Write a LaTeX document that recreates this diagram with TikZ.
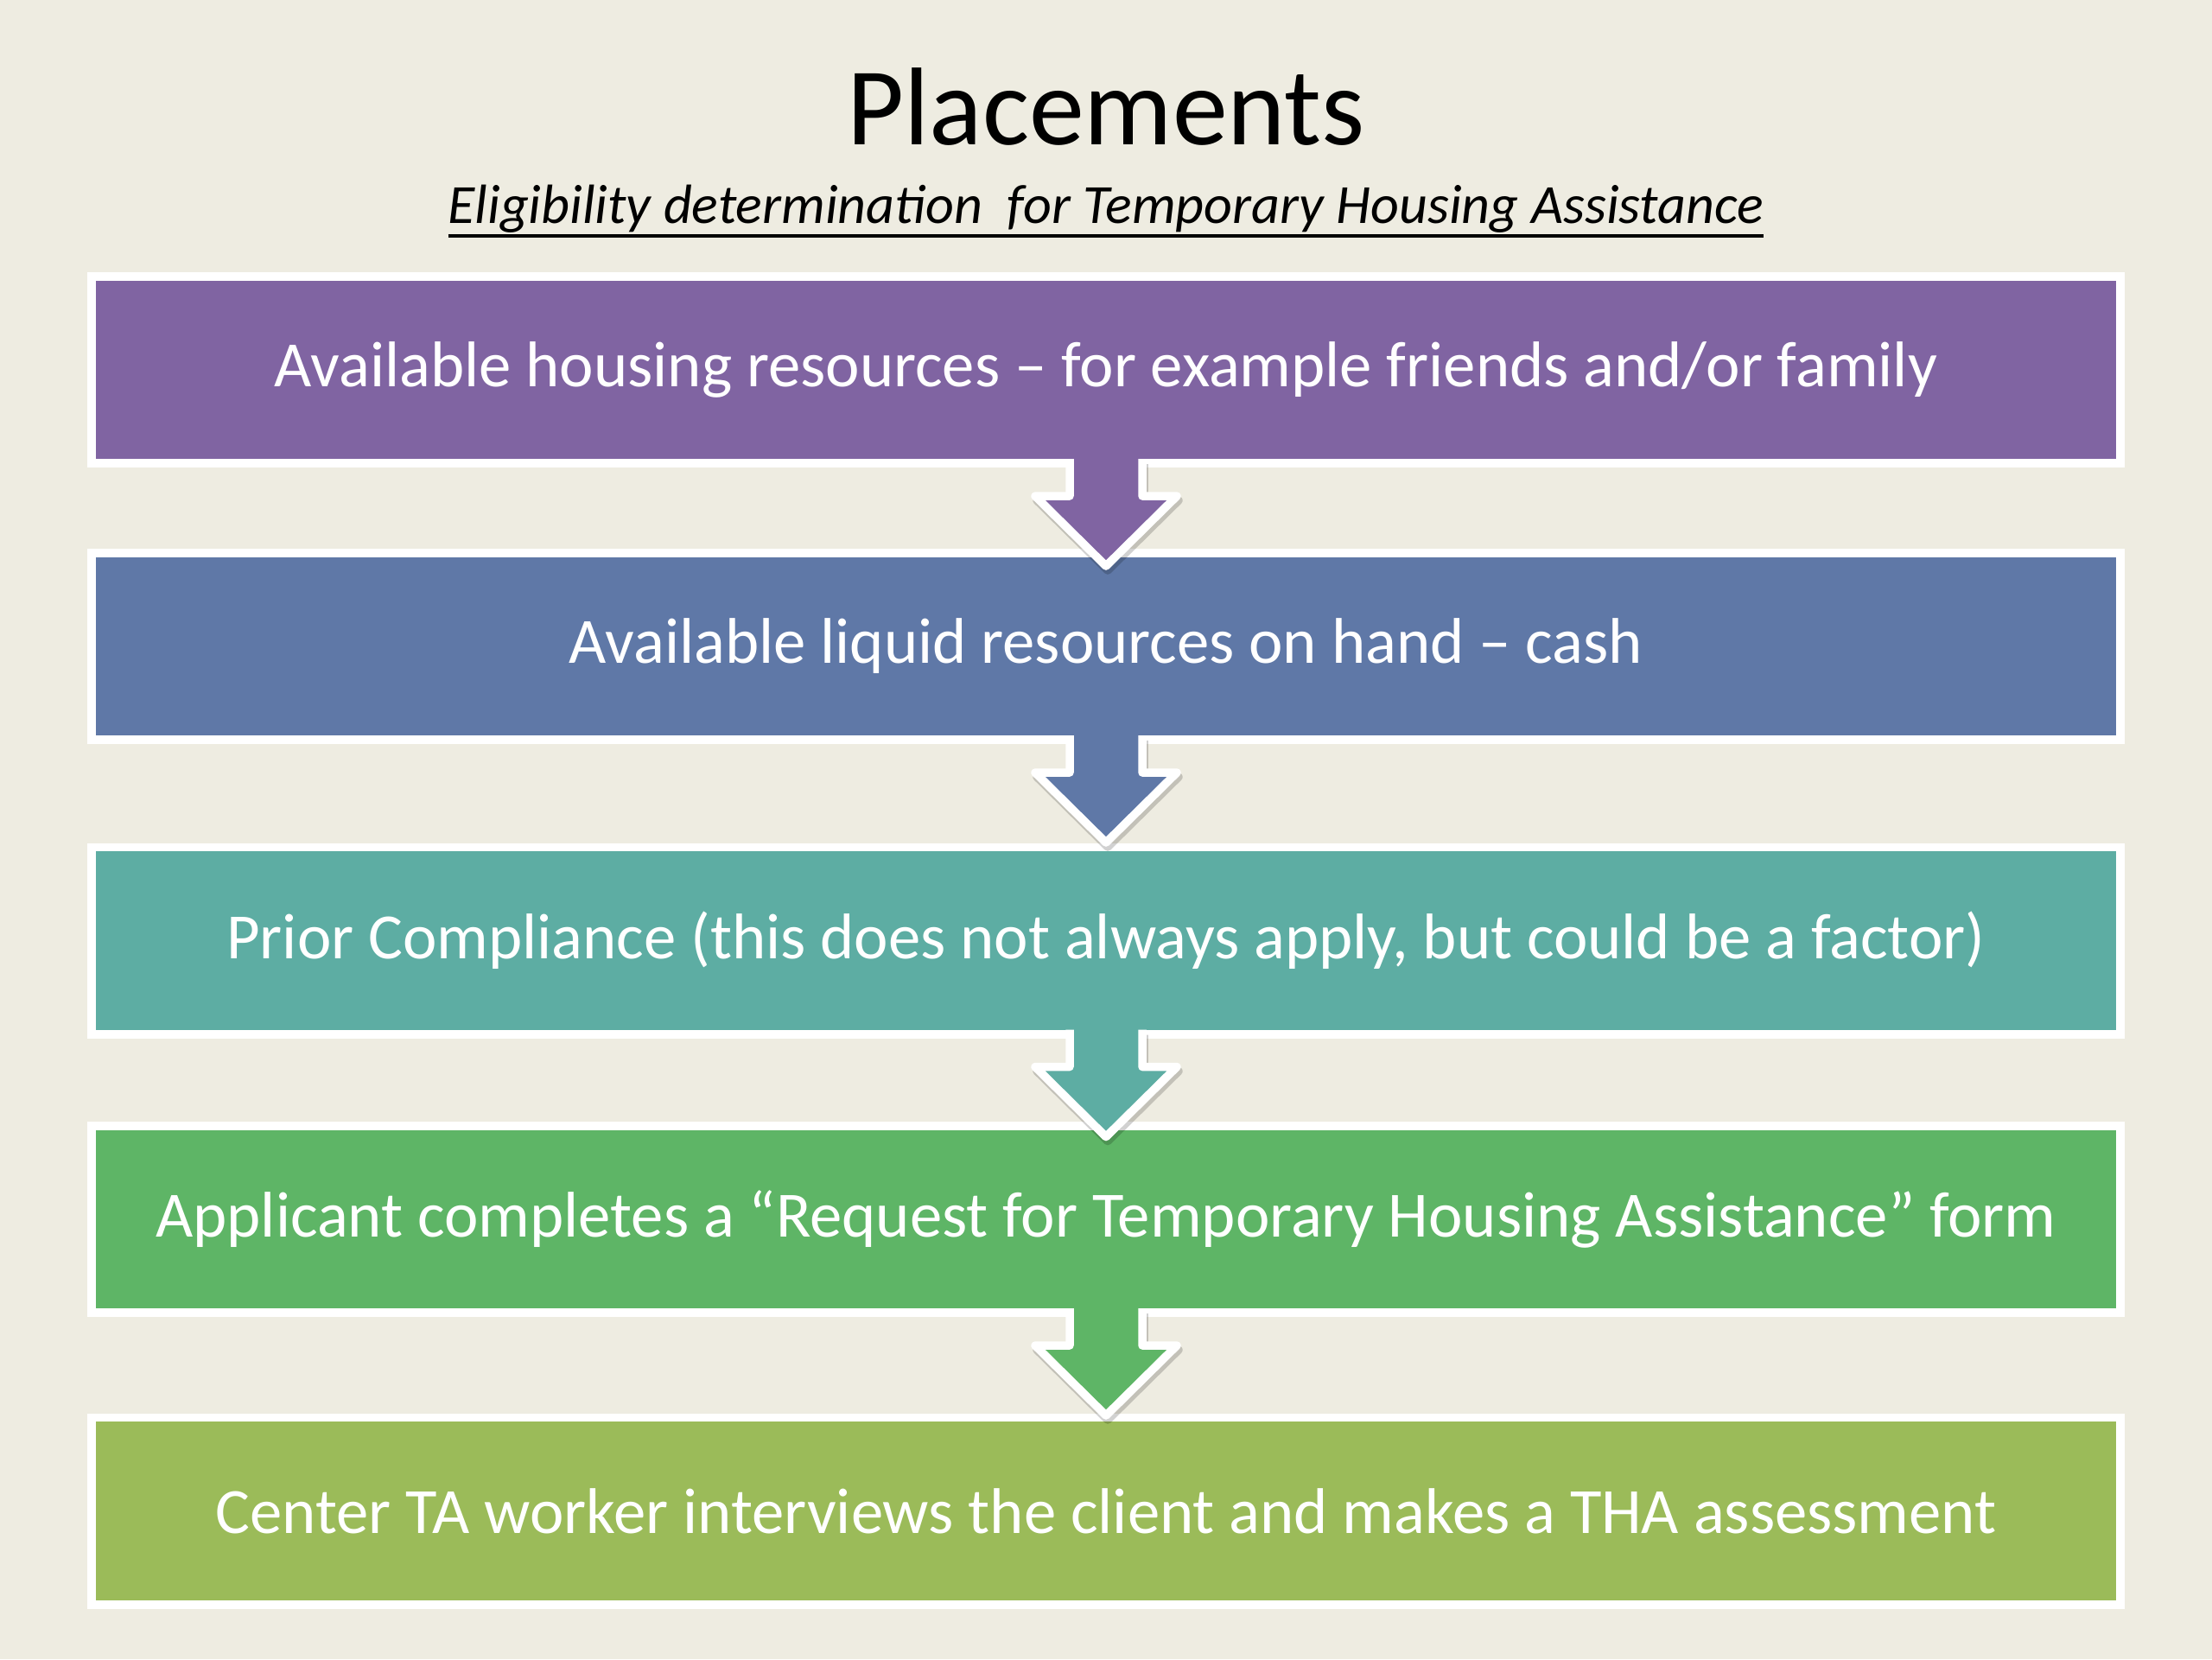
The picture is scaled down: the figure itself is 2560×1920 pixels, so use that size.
\documentclass[tikz,border=0pt]{standalone}
\usepackage{fontspec}
\setmainfont{Carlito}
\usetikzlibrary{calc,shadows}
\definecolor{bgc}{HTML}{EEECE1}
\definecolor{cA}{HTML}{8064A2}
\definecolor{cB}{HTML}{5F78A7}
\definecolor{cC}{HTML}{5DADA3}
\definecolor{cD}{HTML}{5EB566}
\definecolor{cE}{HTML}{9BBB59}
\newcommand\myul[1]{\setbox0\hbox{#1}\rlap{\rule[-0.26em]{\wd0}{1.1pt}}\box0}
\tikzset{
  stepbox/.style={draw=white, line width=2.8pt, minimum width=23.46cm, minimum height=2.16cm,
    inner sep=0pt, outer sep=0pt, text=white, font=\fontsize{21.25}{26}\selectfont,
    drop shadow={shadow xshift=0.7pt, shadow yshift=-1.3pt, opacity=0.22, fill=black}},
  arrline/.style={draw=white, line width=2.7pt, line join=round},
  arrshadow/.style={draw=black, opacity=0.18, line width=2.7pt, line join=round}
}
\newcommand\flowarrow[3]{%
  \coordinate (s#1) at ([shift={(2,5)}]#1.south);
  \draw[arrshadow] ([shift={(-42,-4)}]s#1) -- ([shift={(-42,38)}]s#1) -- ([shift={(-82,38)}]s#1)
     -- ([shift={(0,119)}]s#1) -- ([shift={(82,38)}]s#1) -- ([shift={(42,38)}]s#1) -- ([shift={(42,-4)}]s#1);
  \fill[#3] ([shift={(-42,-14)}]#1.south) -- ([shift={(-42,38)}]#1.south) -- ([shift={(-82,38)}]#1.south)
     -- ([shift={(0,119)}]#1.south) -- ([shift={(82,38)}]#1.south) -- ([shift={(42,38)}]#1.south)
     -- ([shift={(42,-14)}]#1.south) -- cycle;
  \draw[arrline] ([shift={(-42,-5)}]#1.south) -- ([shift={(-42,38)}]#1.south) -- ([shift={(-82,38)}]#1.south)
     -- ([shift={(0,119)}]#1.south) -- ([shift={(82,38)}]#1.south) -- ([shift={(42,38)}]#1.south)
     -- ([shift={(42,-5)}]#1.south);
}
\begin{document}
\begin{tikzpicture}[x=0.01cm,y=-0.01cm]
\fill[bgc] (0,0) rectangle (2560,1920);
\useasboundingbox (0,0) rectangle (2560,1920);

\node[anchor=base, font=\fontsize{36.4}{42}\selectfont] (title) at (1280,167) {Placements};
\node[anchor=base, font=\fontsize{18.2}{22}\selectfont\itshape] (sub) at (1280,258)
  {\myul{Eligibility determination\ \ for Temporary Housing Assistance}};

\node[stepbox, fill=cA] (b1) at (1280,428) {Available housing resources – for example friends and/or family};
\node[stepbox, fill=cB] (b2) at (1280,748) {Available liquid resources on hand – cash};
\node[stepbox, fill=cC] (b3) at (1280,1088.5) {Prior Compliance (this does not always apply, but could be a factor)};
\node[stepbox, fill=cD] (b4) at (1280,1411) {Applicant completes a “Request for Temporary Housing Assistance” form};
\node[stepbox, fill=cE] (b5) at (1280,1748.5) {Center TA worker interviews the client and makes a THA assessment};

\flowarrow{b1}{b2}{cA}
\flowarrow{b2}{b3}{cB}
\flowarrow{b3}{b4}{cC}
\flowarrow{b4}{b5}{cD}
\end{tikzpicture}
\end{document}
